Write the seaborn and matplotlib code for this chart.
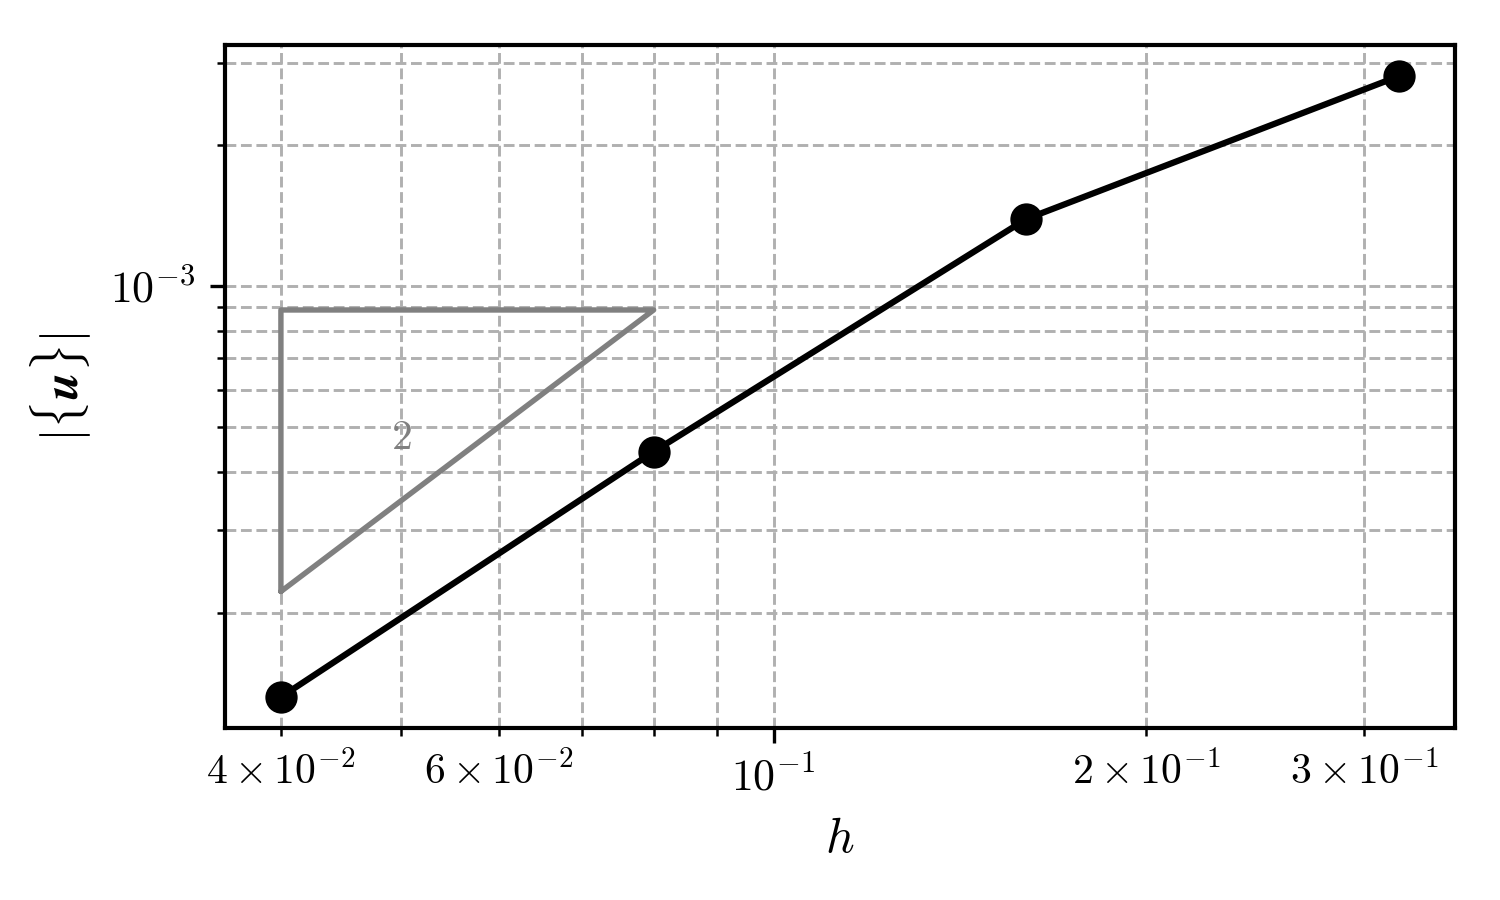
import numpy as np
import pandas as pd
import matplotlib
matplotlib.use("Agg")
import matplotlib.pyplot as plt
import seaborn as sns

# mesh size and error norm
h = [0.04, 0.08, 0.16, 0.32]
err = [1.32e-4, 4.42e-4, 1.39e-3, 2.81e-3]

# slope triangle (order 2)
tri_h = [0.04, 0.08, 0.04, 0.04]
tri_err = [2.22e-4, 8.88e-4, 8.88e-4, 2.22e-4]
tri_label = "2"
tri_label_pos = (0.05, 4.73e-4)

sns.set_style("ticks")
plt.rcParams['font.family'] = 'serif'
plt.rcParams['font.serif'] = ['cmr10', 'DejaVu Serif']
plt.rcParams['mathtext.fontset'] = 'cm'
plt.rcParams['axes.formatter.use_mathtext'] = True
plt.rcParams['axes.unicode_minus'] = False
for k in ['text.color', 'axes.labelcolor', 'axes.edgecolor', 'xtick.color', 'ytick.color']:
    plt.rcParams[k] = 'black'

df = pd.DataFrame({"h": h, "err": err})

fig, ax = plt.subplots(figsize=(5, 3), dpi=300)
sns.lineplot(data=df, x="h", y="err", marker="o", color="k", markersize=7,
             markeredgecolor="k", linewidth=1.5, ax=ax)
ax.plot(tri_h, tri_err, color="gray", linewidth=1.3)
ax.text(tri_label_pos[0], tri_label_pos[1], "$" + tri_label + "$", color="gray",
        fontsize=10, ha="center", va="center")

ax.set_xscale("log")
ax.set_yscale("log")
ax.grid(True, which="both", linestyle="--", color="#b0b0b0", linewidth=0.7)
ax.set_xlabel("$h$", fontsize=12)
ax.set_ylabel(r"$|\{\boldsymbol{u}\}|$", fontsize=12)
ax.tick_params(labelsize=10.5)
for s in ax.spines.values():
    s.set_linewidth(1.0)

fig.subplots_adjust(left=0.15, right=0.97, top=0.95, bottom=0.191)
fig.savefig("out.png", dpi=300)
